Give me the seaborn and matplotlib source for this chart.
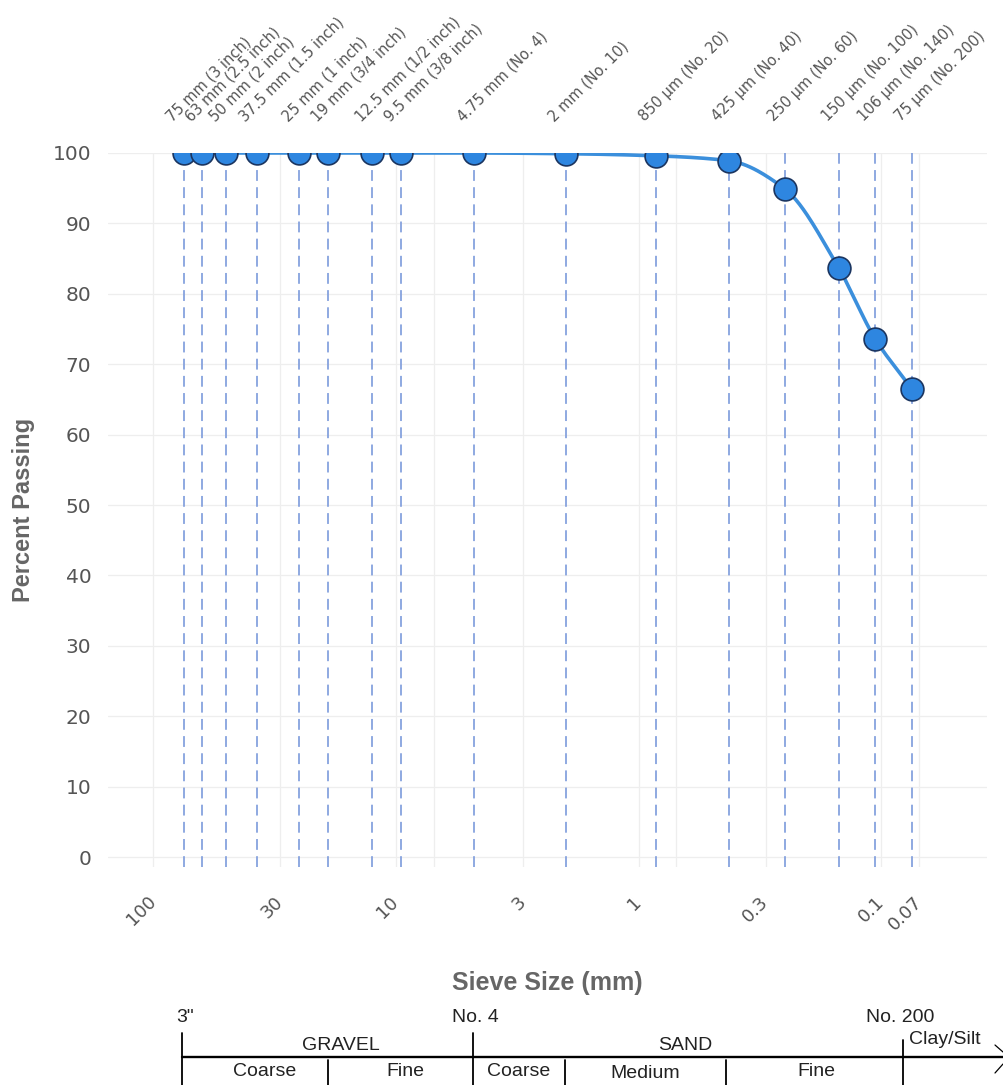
import numpy as np
import pandas as pd
import matplotlib
matplotlib.use("Agg")
import matplotlib.pyplot as plt
import matplotlib.transforms as mtransforms
from matplotlib.lines import Line2D
import seaborn as sns

# ---- data ----
sieve_mm = [75, 63, 50, 37.5, 25, 19, 12.5, 9.5, 4.75, 2, 0.85, 0.425, 0.25, 0.15, 0.106, 0.075]
percent_passing = [100, 100, 100, 100, 100, 100, 100, 100, 100, 99.9, 99.6, 98.9, 94.9, 83.7, 73.6, 66.5]
sieve_labels = ["75 mm (3 inch)", "63 mm (2.5 inch)", "50 mm (2 inch)", "37.5 mm (1.5 inch)",
                "25 mm (1 inch)", "19 mm (3/4 inch)", "12.5 mm (1/2 inch)", "9.5 mm (3/8 inch)",
                "4.75 mm (No. 4)", "2 mm (No. 10)", "850 µm (No. 20)", "425 µm (No. 40)",
                "250 µm (No. 60)", "150 µm (No. 100)", "106 µm (No. 140)", "75 µm (No. 200)"]
x_ticks = [100, 30, 10, 3, 1, 0.3, 0.1, 0.07]
x_tick_labels = ["100", "30", "10", "3", "1", "0.3", "0.1", "0.07"]
x_minor_grid = [7, 0.7]
y_ticks = list(range(0, 101, 10))

sns.set_theme(style="whitegrid")
plt.rcParams['font.family'] = ['DejaVu Sans']

fig = plt.figure(figsize=(10.04, 10.85), dpi=100)
ax = fig.add_axes([0.1076, 0.2009, 0.8755, 0.6581])

df = pd.DataFrame({"size": sieve_mm, "pct": percent_passing})

# smooth monotone cubic rendering of the line in log-x space
lx = np.log10(np.array(sieve_mm, dtype=float))[::-1]
yy = np.array(percent_passing, dtype=float)[::-1]
h = np.diff(lx)
d = np.diff(yy) / h
m = np.zeros_like(yy)
for i in range(1, len(yy) - 1):
    if d[i - 1] * d[i] <= 0:
        m[i] = 0
    else:
        w1 = 2 * h[i] + h[i - 1]
        w2 = h[i] + 2 * h[i - 1]
        m[i] = (w1 + w2) / (w1 / d[i - 1] + w2 / d[i])
m[0] = d[0]
m[-1] = d[-1]
xs, ys = [], []
for i in range(len(h)):
    t = np.linspace(0, 1, 30)
    h00 = 2 * t**3 - 3 * t**2 + 1
    h10 = t**3 - 2 * t**2 + t
    h01 = -2 * t**3 + 3 * t**2
    h11 = t**3 - t**2
    xs.extend(lx[i] + t * h[i])
    ys.extend(h00 * yy[i] + h10 * h[i] * m[i] + h01 * yy[i + 1] + h11 * h[i] * m[i + 1])
curve = pd.DataFrame({"size": 10 ** np.array(xs), "pct": ys})

for s in sieve_mm:
    ax.axvline(s, color="#86a2de", lw=1.3, ls=(0, (6, 3.5)), zorder=1)
for g in x_minor_grid:
    ax.axvline(g, color="#eeeeee", lw=0.9, zorder=0)

sns.lineplot(data=curve, x="size", y="pct", ax=ax, color="#3b8fdc", lw=2.6,
             sort=False, estimator=None, zorder=3)
sns.scatterplot(data=df, x="size", y="pct", ax=ax, s=270, color="#2e86e0",
                edgecolor="#1b3560", linewidth=1.2, zorder=4)
for coll in ax.collections:
    coll.set_clip_on(True)
    coll.set_clip_box(ax.bbox)
for ln in ax.lines:
    ln.set_clip_on(True)

ax.set_xscale("log")
ax.set_xlim(153.5, 0.0367)
ax.set_ylim(-1.4, 100)
ax.set_xticks(x_ticks)
ax.set_xticklabels(x_tick_labels, rotation=45, ha="right", va="center",
                   rotation_mode="anchor", color="#555555", fontsize=13)
ax.xaxis.set_minor_locator(matplotlib.ticker.NullLocator())
ax.set_yticks(y_ticks)
ax.tick_params(axis="y", labelsize=14.5, labelcolor="#555555", pad=12, length=0)
ax.tick_params(axis="x", pad=23, length=0)
ax.grid(True, color="#eeeeee", lw=0.9)
for sp in ax.spines.values():
    sp.set_visible(False)
ax.set_xlabel("Sieve Size (mm)", fontsize=18, fontweight="bold", color="#666666",
              family="Liberation Sans")
ax.xaxis.label.set_va("center")
ax.xaxis.set_label_coords(0.5, -0.1625)
ax.set_ylabel("Percent Passing", fontsize=17, fontweight="bold", color="#666666",
              family="Liberation Sans")
ax.yaxis.label.set_va("center")
ax.yaxis.set_label_coords(-0.0967, 0.5)

# top sieve labels
trans = mtransforms.blended_transform_factory(ax.transData, ax.transAxes)
for s, lab in zip(sieve_mm, sieve_labels):
    t = mtransforms.offset_copy(trans, fig=fig, x=-9, y=29, units="dots")
    ax.text(s, 1.0, lab, transform=t, rotation=45, rotation_mode="anchor",
            ha="left", va="bottom", fontsize=10.5, color="#555555", clip_on=False)

# classification bar (figure pixel coords)
W, H = 1004, 1085
def fx(px):
    return px / W
def fy(py):
    return 1 - py / H
def vline(x, y0, y1, lw=1.3):
    fig.add_artist(Line2D([fx(x), fx(x)], [fy(y0), fy(y1)], color="black", lw=lw))
def hline(x0, x1, y, lw=1.7):
    fig.add_artist(Line2D([fx(x0), fx(x1)], [fy(y), fy(y)], color="black", lw=lw))
def txt(x, y, s, ha="center"):
    fig.text(fx(x), fy(y), s, ha=ha, va="center", fontsize=14, color="#222222",
             family="Liberation Sans")

hline(182, 1004, 1057)
vline(182, 1033, 1085)
vline(473, 1033, 1085)
vline(903, 1040, 1085)
for xv in [328, 565, 726]:
    vline(xv, 1060, 1085)
txt(176, 1018, '3"', ha="left")
txt(452, 1018, "No. 4", ha="left")
txt(866, 1018, "No. 200", ha="left")
txt(341, 1045, "GRAVEL")
txt(685, 1045, "SAND")
txt(909, 1039, "Clay/Silt", ha="left")
txt(265, 1072, "Coarse")
txt(405, 1072, "Fine")
txt(519, 1072, "Coarse")
txt(645, 1073, "Medium")
txt(816, 1071, "Fine")
fig.add_artist(Line2D([fx(995), fx(1003)], [fy(1045), fy(1052)], color="black", lw=0.9))
fig.add_artist(Line2D([fx(995), fx(1003)], [fy(1073), fy(1064)], color="black", lw=0.9))

fig.savefig("out.png", dpi=100, facecolor="white")
